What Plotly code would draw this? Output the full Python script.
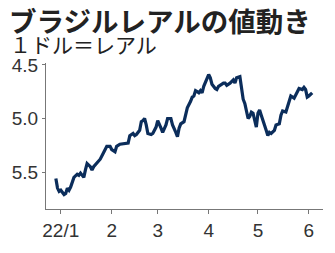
import plotly.graph_objects as go

dates = [
    "2021-12-29", "2021-12-30", "2021-12-31", "2022-01-01", "2022-01-03", "2022-01-04",
    "2022-01-05", "2022-01-06", "2022-01-07", "2022-01-08", "2022-01-09", "2022-01-11",
    "2022-01-12", "2022-01-13", "2022-01-15", "2022-01-16", "2022-01-17", "2022-01-19",
    "2022-01-20", "2022-01-21", "2022-01-23", "2022-01-25", "2022-01-27", "2022-01-29",
    "2022-01-31", "2022-02-01", "2022-02-03", "2022-02-04", "2022-02-06", "2022-02-09",
    "2022-02-11", "2022-02-12", "2022-02-14", "2022-02-15", "2022-02-16", "2022-02-18",
    "2022-02-19", "2022-02-20", "2022-02-21", "2022-02-22", "2022-02-23", "2022-02-25",
    "2022-02-26", "2022-02-28", "2022-03-01", "2022-03-03", "2022-03-04", "2022-03-06",
    "2022-03-07", "2022-03-09", "2022-03-10", "2022-03-12", "2022-03-13", "2022-03-14",
    "2022-03-15", "2022-03-17", "2022-03-18", "2022-03-19", "2022-03-21", "2022-03-22",
    "2022-03-23", "2022-03-24", "2022-03-25", "2022-03-26", "2022-03-27", "2022-03-28",
    "2022-03-29", "2022-03-31", "2022-04-01", "2022-04-02", "2022-04-03", "2022-04-05",
    "2022-04-06", "2022-04-07", "2022-04-08", "2022-04-10", "2022-04-11", "2022-04-12",
    "2022-04-14", "2022-04-15", "2022-04-16", "2022-04-17", "2022-04-18", "2022-04-20",
    "2022-04-21", "2022-04-22", "2022-04-23", "2022-04-24", "2022-04-25", "2022-04-26",
    "2022-04-27", "2022-04-28", "2022-04-29", "2022-04-30", "2022-05-01", "2022-05-02",
    "2022-05-03", "2022-05-05", "2022-05-06", "2022-05-07", "2022-05-08", "2022-05-09",
    "2022-05-11", "2022-05-12", "2022-05-14", "2022-05-15", "2022-05-16", "2022-05-18",
    "2022-05-19", "2022-05-20", "2022-05-21", "2022-05-23", "2022-05-24", "2022-05-25",
    "2022-05-26", "2022-05-28", "2022-05-29", "2022-05-30", "2022-05-31", "2022-06-01",
    "2022-06-02", "2022-06-03",
]

rates = [
    5.56, 5.65, 5.68, 5.67, 5.71, 5.70,
    5.65, 5.67, 5.64, 5.59, 5.55, 5.52,
    5.53, 5.51, 5.55, 5.48, 5.42, 5.45,
    5.48, 5.45, 5.41, 5.38, 5.32, 5.26,
    5.26, 5.29, 5.31, 5.26, 5.24, 5.23,
    5.23, 5.16, 5.14, 5.16, 5.15, 5.11,
    5.03, 5.02, 5.00, 5.06, 5.14, 5.15,
    5.14, 5.08, 5.02, 5.09, 5.13, 5.06,
    5.00, 5.00, 5.06, 5.13, 5.17, 5.09,
    5.05, 5.03, 4.95, 4.90, 4.84, 4.80,
    4.79, 4.74, 4.75, 4.76, 4.74, 4.76,
    4.70, 4.62, 4.59, 4.62, 4.68, 4.72,
    4.73, 4.70, 4.69, 4.67, 4.67, 4.69,
    4.67, 4.65, 4.64, 4.67, 4.62, 4.61,
    4.73, 4.82, 4.86, 4.95, 5.00, 4.98,
    4.94, 4.95, 5.02, 5.08, 4.95, 4.92,
    4.97, 5.05, 5.11, 5.16, 5.13, 5.14,
    5.11, 5.06, 5.05, 4.97, 4.93, 4.94,
    4.88, 4.83, 4.79, 4.81, 4.78, 4.75,
    4.72, 4.73, 4.71, 4.73, 4.80, 4.79,
    4.77, 4.76,
]

x_tick_vals = ["2022-01-01", "2022-02-01", "2022-03-01", "2022-04-01", "2022-05-01", "2022-06-01"]
x_tick_text = ["22/1", "2", "3", "4", "5", "6"]
y_tick_vals = [4.5, 5.0, 5.5]
y_tick_text = ["4.5", "5.0", "5.5"]

title_text = "ブラジルレアルの値動き"
unit_text = "１ドル＝レアル"

W, H = 335, 253
ML, MR, MT, MB = 43, 12, 63, 40
plot_w = W - ML - MR
plot_h = H - MT - MB


def paper_x(px):
    return (px - ML) / plot_w


def paper_y(py):
    return (H - MB - py) / plot_h


fig = go.Figure()
fig.add_trace(go.Scatter(
    x=dates, y=rates, mode="lines",
    line=dict(color="#0b2d5b", width=3.2),
    hoverinfo="skip",
))

axis_font = dict(family="Liberation Sans, Arial, sans-serif", size=19, color="#333333")

fig.update_layout(
    width=W, height=H,
    margin=dict(l=ML, r=MR, t=MT, b=MB),
    paper_bgcolor="white", plot_bgcolor="white",
    showlegend=False,
    xaxis=dict(
        type="date",
        range=["2021-12-23", "2022-06-09 14:00"],
        tickmode="array", tickvals=x_tick_vals, ticktext=x_tick_text,
        ticks="outside", ticklen=4, tickcolor="#777777", tickwidth=1,
        showline=True, linecolor="#777777", linewidth=1,
        showgrid=False, zeroline=False,
        tickfont=axis_font,
    ),
    yaxis=dict(
        range=[5.845, 4.482],
        tickmode="array", tickvals=y_tick_vals, ticktext=y_tick_text,
        ticks="outside", ticklen=3, tickcolor="#777777", tickwidth=1,
        showline=True, linecolor="#777777", linewidth=1,
        showgrid=False, zeroline=False,
        tickfont=axis_font,
    ),
    annotations=[
        dict(text="<b>" + title_text + "</b>", x=paper_x(4), y=paper_y(18.5),
             xref="paper", yref="paper",
             showarrow=False, xanchor="left", yanchor="middle",
             font=dict(family="Noto Sans CJK JP", size=27.5, color="#222222")),
        dict(text=unit_text, x=paper_x(5), y=paper_y(43),
             xref="paper", yref="paper",
             showarrow=False, xanchor="left", yanchor="middle",
             font=dict(family="Noto Sans CJK JP", size=21, color="#222222")),
    ],
)

fig.write_html("out.html")
